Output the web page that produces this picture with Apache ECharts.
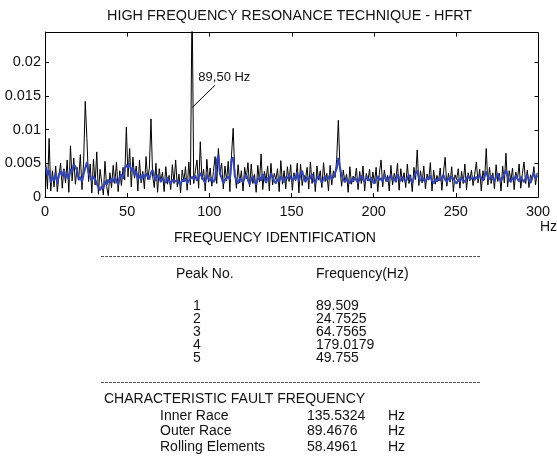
<!DOCTYPE html>
<html>
<head>
<meta charset="utf-8">
<title>HFRT</title>
<script src="https://cdn.jsdelivr.net/npm/echarts@6/dist/echarts.min.js"></script>
<style>
  html, body { margin: 0; padding: 0; background: #fff; }
  #chart { width: 557px; height: 464px; }
</style>
</head>
<body>
<div id="chart"></div>
<script>
// spectrum amplitudes, units of 1e-3, one sample per Hz (bin centres 0.5, 1.5 ... 299.5)
var ampRaw = [
  4.8, 1.2, 8.7, 0.9, 3.9, 1.5, 4.6, 0.8, 3.2, 5.0,
  1.3, 4.2, 2.1, 5.5, 0.7, 7.6, 2.4, 5.8, 1.9, 4.4,
  2.6, 6.3, 1.1, 5.2, 14.2, 8.7, 2.3, 4.9, 0.6, 5.6,
  1.8, 6.7, 0.4, 4.1, 2.2, 0.3, 5.3, 1.6, 0.2, 3.6,
  1.4, 4.7, 2.0, 5.2, 0.8, 3.9, 1.7, 4.4, 2.5, 10.4,
  3.0, 7.2, 1.5, 5.9, 2.8, 4.6, 0.9, 5.5, 2.1, 3.8,
  1.2, 6.0, 2.6, 4.3, 11.6, 3.1, 1.4, 5.0, 0.7, 4.2,
  2.3, 3.7, 0.8, 4.5, 1.9, 3.2, 1.1, 4.8, 2.0, 5.5,
  1.5, 3.4, 0.6, 4.0, 2.4, 4.5, 1.0, 5.2, 1.8, 30.0,
  2.0, 3.9, 5.5, 1.3, 8.2, 2.6, 4.1, 0.9, 5.6, 2.2,
  4.3, 1.6, 3.8, 6.0, 2.0, 7.2, 3.5, 5.0, 1.2, 4.6,
  2.4, 5.3, 0.8, 6.2, 10.2, 3.6, 1.3, 4.8, 2.1, 3.9,
  0.9, 4.4, 2.7, 5.1, 1.5, 4.9, 2.0, 3.4, 0.7, 4.7,
  2.2, 6.4, 1.1, 3.8, 2.5, 4.6, 0.9, 5.0, 1.8, 3.5,
  2.6, 4.2, 0.8, 5.4, 1.9, 3.9, 1.2, 4.5, 2.3, 4.8,
  1.0, 3.6, 2.4, 5.0, 0.6, 4.9, 1.7, 3.3, 2.6, 4.4,
  1.2, 5.2, 2.0, 3.7, 0.8, 4.6, 2.5, 3.9, 1.4, 5.1,
  2.3, 3.5, 0.9, 4.7, 1.8, 3.9, 2.9, 5.6, 11.4, 4.2,
  1.6, 4.0, 2.2, 3.4, 0.7, 4.5, 1.9, 3.1, 2.5, 4.3,
  1.1, 3.8, 2.0, 4.6, 0.9, 3.5, 2.4, 4.1, 1.3, 3.7,
  2.1, 4.4, 0.8, 3.6, 5.5, 1.5, 4.0, 2.3, 3.2, 0.9,
  4.7, 1.8, 3.5, 2.6, 5.0, 1.0, 4.2, 2.2, 3.6, 1.4,
  4.9, 2.0, 3.3, 0.8, 4.4, 2.6, 7.0, 1.7, 3.9, 2.1,
  4.6, 1.2, 3.4, 2.5, 5.1, 0.9, 4.0, 1.9, 3.2, 2.4,
  4.3, 1.0, 3.7, 5.9, 1.6, 3.5, 2.2, 4.5, 0.8, 3.3,
  2.6, 4.2, 1.3, 3.8, 2.0, 4.9, 1.1, 3.6, 2.4, 4.0,
  1.7, 3.4, 5.2, 2.1, 4.1, 0.9, 3.9, 2.5, 7.2, 1.8,
  4.4, 2.0, 3.6, 1.2, 4.8, 2.3, 3.5, 0.9, 4.6, 2.1,
  6.5, 1.5, 3.9, 2.4, 4.3, 1.1, 3.7, 2.6, 4.9, 1.3,
  3.5, 5.2, 2.0, 4.0, 1.4, 3.3, 2.6, 4.5, 1.8, 3.6
];

// smoothed envelope (blue), same bins, units of 1e-3
var ampSmooth = [
  4.5, 3.2, 4.0, 2.1, 3.0, 2.4, 3.6, 2.0, 3.3, 3.8,
  3.1, 4.0, 2.8, 3.5, 2.6, 4.2, 3.7, 4.8, 4.5, 3.9,
  2.5, 3.0, 2.2, 3.4, 4.3, 5.2, 3.6, 3.0, 2.4, 3.1,
  2.6, 2.0, 1.4, 1.0, 1.6, 1.2, 2.4, 1.8, 2.6, 2.1,
  2.8, 2.2, 3.0, 2.4, 1.8, 2.9, 3.4, 2.7, 4.2, 4.8,
  4.3, 5.0, 3.8, 4.4, 3.2, 3.9, 2.6, 3.3, 2.5, 3.4,
  2.8, 3.5, 3.0, 2.6, 3.6, 4.0, 3.1, 2.4, 3.3, 2.9,
  2.2, 2.8, 2.5, 2.1, 2.9, 2.4, 1.9, 2.6, 2.2, 2.0,
  2.5, 2.1, 1.8, 2.6, 2.3, 2.8, 2.0, 2.4, 2.2, 3.0,
  2.6, 3.2, 2.4, 2.9, 3.6, 3.0, 2.5, 2.1, 3.3, 2.7,
  2.4, 2.9, 2.2, 2.6, 5.4, 6.2, 3.4, 2.8, 2.0, 2.5,
  2.3, 3.0, 2.6, 5.6, 5.9, 3.2, 2.4, 2.0, 2.8, 2.5,
  2.2, 2.9, 3.3, 2.5, 1.9, 2.6, 3.1, 2.3, 1.8, 2.7,
  3.0, 2.4, 3.4, 2.8, 2.1, 2.9, 2.5, 3.5, 3.0, 2.4,
  2.0, 2.7, 2.3, 3.1, 2.6, 2.2, 3.0, 2.7, 3.3, 2.9,
  2.4, 3.1, 2.6, 3.7, 2.3, 3.4, 3.9, 2.8, 2.2, 3.0,
  2.5, 2.9, 3.4, 2.4, 2.0, 2.8, 3.2, 2.6, 2.1, 2.7,
  3.1, 2.5, 2.9, 3.3, 2.6, 3.0, 3.6, 4.2, 5.8, 4.4,
  3.2, 2.6, 2.2, 2.8, 2.4, 2.0, 2.7, 2.3, 2.9, 2.5,
  2.1, 2.8, 3.2, 2.6, 2.2, 3.0, 2.7, 2.4, 2.9, 2.3,
  2.0, 2.6, 3.1, 2.5, 2.8, 2.2, 3.3, 2.7, 2.3, 2.9,
  3.2, 2.5, 2.8, 2.2, 3.4, 2.7, 2.4, 3.0, 2.6, 2.2,
  2.8, 3.3, 2.6, 2.1, 2.9, 3.6, 3.9, 2.8, 2.4, 3.0,
  2.5, 2.2, 2.9, 2.6, 3.2, 2.4, 2.0, 2.7, 2.3, 2.8,
  2.4, 2.9, 3.3, 2.6, 2.2, 2.8, 2.5, 3.1, 2.7, 2.3,
  2.0, 2.6, 2.3, 2.9, 2.5, 2.2, 2.8, 3.2, 2.6, 2.4,
  2.9, 2.5, 3.0, 2.7, 3.3, 2.8, 2.4, 3.1, 3.8, 2.9,
  2.6, 3.2, 2.7, 2.3, 3.0, 3.5, 2.8, 2.4, 2.9, 3.4,
  4.0, 3.1, 2.6, 2.2, 2.9, 2.5, 3.2, 2.7, 2.3, 3.0,
  2.6, 2.2, 2.8, 3.3, 2.5, 2.1, 2.9, 3.6, 2.7, 3.2
];

var xTicks = [0, 50, 100, 150, 200, 250, 300];
var yTicks = [0, 0.005, 0.01, 0.015, 0.02];
var yMax = 0.0245;

// table under the plot
var peakNo = ['1', '2', '3', '4', '5'];
var peakFreq = ['89.509', '24.7525', '64.7565', '179.0179', '49.755'];
var faultName = ['Inner Race', 'Outer Race', 'Rolling Elements'];
var faultFreq = ['135.5324', '89.4676', '58.4961'];

// annotation of the main peak
var peakLabel = '89,50 Hz';
var leader = [[89.6, 0.0133], [103.5, 0.0166]];
var labelAt = [93.0, 0.0178];

var FONT = '"Liberation Sans", Arial, sans-serif';

function toPairs (arr) {
  var out = [];
  for (var i = 0; i < arr.length; i++) {
    out.push([i + 0.5, arr[i] / 1000]);
  }
  return out;
}

// text anchored at its left (or centre) and vertical middle
function txt (x, y, s, align) {
  return {
    type: 'text',
    x: x,
    y: y,
    style: {
      text: s,
      fill: '#111',
      font: '14px ' + FONT,
      textAlign: align || 'left',
      textVerticalAlign: 'middle'
    }
  };
}

function dashLine (y) {
  return {
    type: 'line',
    shape: { x1: 101, y1: y, x2: 480, y2: y },
    style: { stroke: '#555', lineWidth: 1, lineDash: [3, 1] }
  };
}

function seg (x1, y1, x2, y2) {
  return {
    type: 'line',
    z: 100,
    silent: true,
    shape: { x1: x1, y1: y1, x2: x2, y2: y2 },
    style: { stroke: '#000', lineWidth: 1 }
  };
}

var graphics = [];
graphics.push(txt(174, 238, 'FREQUENCY IDENTIFICATION'));
graphics.push(dashLine(256.5));
graphics.push(txt(176, 274, 'Peak No.'));
graphics.push(txt(316, 274, 'Frequency(Hz)'));
for (var i = 0; i < peakNo.length; i++) {
  graphics.push(txt(197, 306 + i * 13, peakNo[i], 'center'));
  graphics.push(txt(316, 306 + i * 13, peakFreq[i]));
}
graphics.push(dashLine(382.5));
graphics.push(txt(104, 399, 'CHARACTERISTIC FAULT FREQUENCY'));
for (var j = 0; j < faultName.length; j++) {
  graphics.push(txt(160, 416 + j * 15.5, faultName[j]));
  graphics.push(txt(307, 416 + j * 15.5, faultFreq[j]));
  graphics.push(txt(388, 416 + j * 15.5, 'Hz'));
}
graphics.push(txt(540, 227, 'Hz'));

var option = {
  animation: false,
  backgroundColor: '#fff',
  title: {
    text: 'HIGH FREQUENCY RESONANCE TECHNIQUE - HFRT',
    left: 107,
    top: 9,
    padding: 0,
    textStyle: { fontFamily: FONT, fontSize: 14.4, fontWeight: 'normal', color: '#111' }
  },
  grid: { left: 45, right: 19, top: 32, bottom: 267 },
  xAxis: {
    type: 'value', min: xTicks[0], max: xTicks[xTicks.length - 1], interval: 50,
    axisLine: { show: true, onZero: false, lineStyle: { color: '#000', width: 1 } },
    axisTick: { show: true, inside: true, length: 4, lineStyle: { color: '#000' } },
    splitLine: { show: false },
    axisLabel: { color: '#111', fontFamily: FONT, fontSize: 14.5, margin: 7 }
  },
  yAxis: {
    type: 'value', min: yTicks[0], max: yMax, interval: 0.005,
    axisLine: { show: true, onZero: false, lineStyle: { color: '#000', width: 1 } },
    axisTick: { show: true, inside: true, length: 4, lineStyle: { color: '#000' } },
    splitLine: { show: false },
    axisLabel: { color: '#111', fontFamily: FONT, fontSize: 14.5, margin: 4, showMaxLabel: false }
  },
  series: [{
    name: 'raw',
    type: 'line',
    data: toPairs(ampRaw),
    showSymbol: false,
    symbol: 'none',
    clip: true,
    lineStyle: { color: '#000', width: 1 },
    markLine: {
      silent: true,
      symbol: 'none',
      lineStyle: { color: '#000', width: 1, type: 'solid' },
      label: { show: false },
      data: [[{ coord: leader[0] }, { coord: leader[1] }]]
    },
    markPoint: {
      silent: true,
      symbol: 'circle',
      symbolSize: 1,
      itemStyle: { color: 'rgba(0,0,0,0)' },
      label: {
        show: true, position: 'right', distance: 0,
        formatter: peakLabel, color: '#111', fontFamily: FONT, fontSize: 13
      },
      data: [{ coord: labelAt }]
    }
  }, {
    name: 'smooth',
    type: 'line',
    data: toPairs(ampSmooth),
    showSymbol: false,
    symbol: 'none',
    clip: true,
    lineStyle: { color: '#3545b0', width: 2 }
  }],
  graphic: graphics
};

var myChart = echarts.init(document.getElementById('chart'));
myChart.setOption(option);

// close the box (top and right edges with inward ticks), placed through the axes
var lo = myChart.convertToPixel({ gridIndex: 0 }, [xTicks[0], yTicks[0]]);
var hi = myChart.convertToPixel({ gridIndex: 0 }, [xTicks[xTicks.length - 1], yMax]);
var L = Math.round(lo[0]) + 0.5, B = Math.round(lo[1]) + 0.5;
var R = Math.round(hi[0]) + 0.5, T = Math.round(hi[1]) + 0.5;
var box = [seg(L, T, R, T), seg(R, T, R, B)];
xTicks.slice(1, -1).forEach(function (v) {
  var px = Math.round(myChart.convertToPixel({ gridIndex: 0 }, [v, 0])[0]) + 0.5;
  box.push(seg(px, T, px, T + 4));
});
yTicks.slice(1).forEach(function (v) {
  var py = Math.round(myChart.convertToPixel({ gridIndex: 0 }, [0, v])[1]) + 0.5;
  box.push(seg(R, py, R - 4, py));
});
myChart.setOption({ graphic: graphics.concat(box) });
</script>
</body>
</html>
